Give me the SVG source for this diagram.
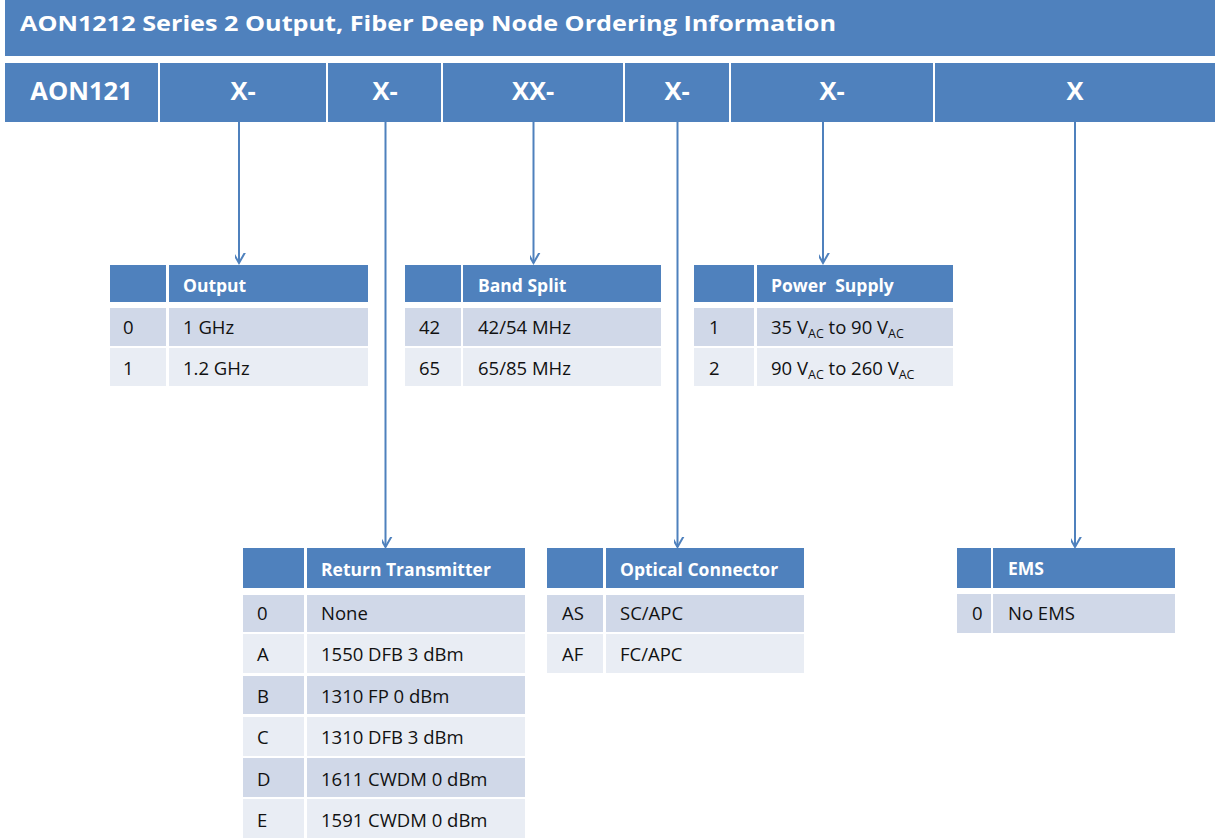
<svg xmlns="http://www.w3.org/2000/svg" width="1215" height="838" viewBox="0 0 1215 838">
<style>
.bar{fill:#4f81bd}
.hd{fill:#4f81bd}
.r1{fill:#d0d8e8}
.r2{fill:#e9edf4}
.t{font-family:"Open Sans",Lato,"Liberation Sans",sans-serif;fill:#fff;font-weight:bold}
.title{font-size:22px}
.code{font-size:25.5px;text-anchor:middle}
.th{font-size:17.5px}
.td{font-family:"Open Sans",Lato,"Liberation Sans",sans-serif;font-size:18.5px;fill:#111}
.sub{font-size:12.5px}
.conn line{stroke:#4f81bd;stroke-width:2;fill:none}
</style>
<defs>
<marker id="arr" markerUnits="userSpaceOnUse" markerWidth="20" markerHeight="20" viewBox="-10 -16 20 20" refX="0" refY="0" orient="auto">
<path d="M-8,-14 L0,0 L8,-14" transform="rotate(-90)" fill="none" stroke="#4f81bd" stroke-width="2"/>
</marker>
</defs>
<rect width="1215" height="838" fill="#fff"/>
<g id="title">
<rect class="bar" x="5" y="0" width="1210" height="56"/>
<text class="t title" x="20" y="31" textLength="816" lengthAdjust="spacingAndGlyphs">AON1212 Series 2 Output, Fiber Deep Node Ordering Information</text>
</g>
<g id="code-row">
<rect class="bar" x="5" y="63" width="153" height="59"/>
<rect class="bar" x="160" y="63" width="166" height="59"/>
<rect class="bar" x="328" y="63" width="113" height="59"/>
<rect class="bar" x="443" y="63" width="180" height="59"/>
<rect class="bar" x="625" y="63" width="104" height="59"/>
<rect class="bar" x="731" y="63" width="202" height="59"/>
<rect class="bar" x="935" y="63" width="280" height="59"/>
<text class="t code" x="81.5" y="99.5">AON121</text>
<text class="t code" x="243" y="99.5">X-</text>
<text class="t code" x="385" y="99.5">X-</text>
<text class="t code" x="533" y="99.5">XX-</text>
<text class="t code" x="677" y="99.5">X-</text>
<text class="t code" x="832" y="99.5">X-</text>
<text class="t code" x="1075" y="99.5">X</text>
</g>
<g class="conn" id="connectors">
<line x1="239" y1="122" x2="239" y2="263" marker-end="url(#arr)"/>
<line x1="385.5" y1="122" x2="385.5" y2="547" marker-end="url(#arr)"/>
<line x1="533.5" y1="122" x2="533.5" y2="263" marker-end="url(#arr)"/>
<line x1="677.5" y1="122" x2="677.5" y2="547" marker-end="url(#arr)"/>
<line x1="823" y1="122" x2="823" y2="263" marker-end="url(#arr)"/>
<line x1="1075" y1="122" x2="1075" y2="547" marker-end="url(#arr)"/>
</g>
<g id="output-table">
<rect class="hd" x="110" y="265" width="56" height="37"/>
<rect class="hd" x="169" y="265" width="199" height="37"/>
<rect class="r1" x="110" y="308" width="56" height="38"/>
<rect class="r1" x="169" y="308" width="199" height="38"/>
<rect class="r2" x="110" y="348" width="56" height="38"/>
<rect class="r2" x="169" y="348" width="199" height="38"/>
<text class="t th" x="183" y="292">Output</text>
<text class="td" x="123" y="334">0</text>
<text class="td" x="183" y="334">1 GHz</text>
<text class="td" x="123" y="375">1</text>
<text class="td" x="183" y="375">1.2 GHz</text>
</g>
<g id="band-split-table">
<rect class="hd" x="405" y="265" width="56" height="37"/>
<rect class="hd" x="463" y="265" width="198" height="37"/>
<rect class="r1" x="405" y="308" width="56" height="38"/>
<rect class="r1" x="463" y="308" width="198" height="38"/>
<rect class="r2" x="405" y="348" width="56" height="38"/>
<rect class="r2" x="463" y="348" width="198" height="38"/>
<text class="t th" x="478" y="292">Band Split</text>
<text class="td" x="419" y="334">42</text>
<text class="td" x="478" y="334">42/54 MHz</text>
<text class="td" x="419" y="375">65</text>
<text class="td" x="478" y="375">65/85 MHz</text>
</g>
<g id="power-supply-table">
<rect class="hd" x="694" y="265" width="60" height="37"/>
<rect class="hd" x="757" y="265" width="196" height="37"/>
<rect class="r1" x="694" y="308" width="60" height="38"/>
<rect class="r1" x="757" y="308" width="196" height="38"/>
<rect class="r2" x="694" y="348" width="60" height="38"/>
<rect class="r2" x="757" y="348" width="196" height="38"/>
<text class="t th" x="771" y="292" xml:space="preserve">Power  Supply</text>
<text class="td" x="709" y="334">1</text>
<text class="td" x="771" y="334">35 V<tspan class="sub" dy="4">AC</tspan><tspan dy="-4"> to 90 V</tspan><tspan class="sub" dy="4">AC</tspan></text>
<text class="td" x="709" y="375">2</text>
<text class="td" x="771" y="375">90 V<tspan class="sub" dy="4">AC</tspan><tspan dy="-4"> to 260 V</tspan><tspan class="sub" dy="4">AC</tspan></text>
</g>
<g id="return-transmitter-table">
<rect class="hd" x="243" y="548" width="61" height="40"/>
<rect class="hd" x="307" y="548" width="218" height="40"/>
<rect class="r1" x="243" y="595" width="61" height="37"/>
<rect class="r1" x="307" y="595" width="218" height="37"/>
<rect class="r2" x="243" y="634" width="61" height="39"/>
<rect class="r2" x="307" y="634" width="218" height="39"/>
<rect class="r1" x="243" y="676" width="61" height="38"/>
<rect class="r1" x="307" y="676" width="218" height="38"/>
<rect class="r2" x="243" y="717" width="61" height="39"/>
<rect class="r2" x="307" y="717" width="218" height="39"/>
<rect class="r1" x="243" y="758" width="61" height="39"/>
<rect class="r1" x="307" y="758" width="218" height="39"/>
<rect class="r2" x="243" y="799" width="61" height="39"/>
<rect class="r2" x="307" y="799" width="218" height="39"/>
<text class="t th" x="321" y="576">Return Transmitter</text>
<text class="td" x="257" y="620">0</text>
<text class="td" x="321" y="620">None</text>
<text class="td" x="257" y="661">A</text>
<text class="td" x="321" y="661">1550 DFB 3 dBm</text>
<text class="td" x="257" y="703">B</text>
<text class="td" x="321" y="703">1310 FP 0 dBm</text>
<text class="td" x="257" y="744">C</text>
<text class="td" x="321" y="744">1310 DFB 3 dBm</text>
<text class="td" x="257" y="786">D</text>
<text class="td" x="321" y="786">1611 CWDM 0 dBm</text>
<text class="td" x="257" y="827">E</text>
<text class="td" x="321" y="827">1591 CWDM 0 dBm</text>
</g>
<g id="optical-connector-table">
<rect class="hd" x="547" y="548" width="56" height="40"/>
<rect class="hd" x="606" y="548" width="198" height="40"/>
<rect class="r1" x="547" y="595" width="56" height="37"/>
<rect class="r1" x="606" y="595" width="198" height="37"/>
<rect class="r2" x="547" y="634" width="56" height="39"/>
<rect class="r2" x="606" y="634" width="198" height="39"/>
<text class="t th" x="620" y="576">Optical Connector</text>
<text class="td" x="562" y="620">AS</text>
<text class="td" x="620" y="620">SC/APC</text>
<text class="td" x="562" y="661">AF</text>
<text class="td" x="620" y="661">FC/APC</text>
</g>
<g id="ems-table">
<rect class="hd" x="957" y="548" width="34" height="40"/>
<rect class="hd" x="993" y="548" width="182" height="40"/>
<rect class="r1" x="957" y="594" width="34" height="39"/>
<rect class="r1" x="993" y="594" width="182" height="39"/>
<text class="t th" x="1008" y="575">EMS</text>
<text class="td" x="972" y="620">0</text>
<text class="td" x="1008" y="620">No EMS</text>
</g>
</svg>
